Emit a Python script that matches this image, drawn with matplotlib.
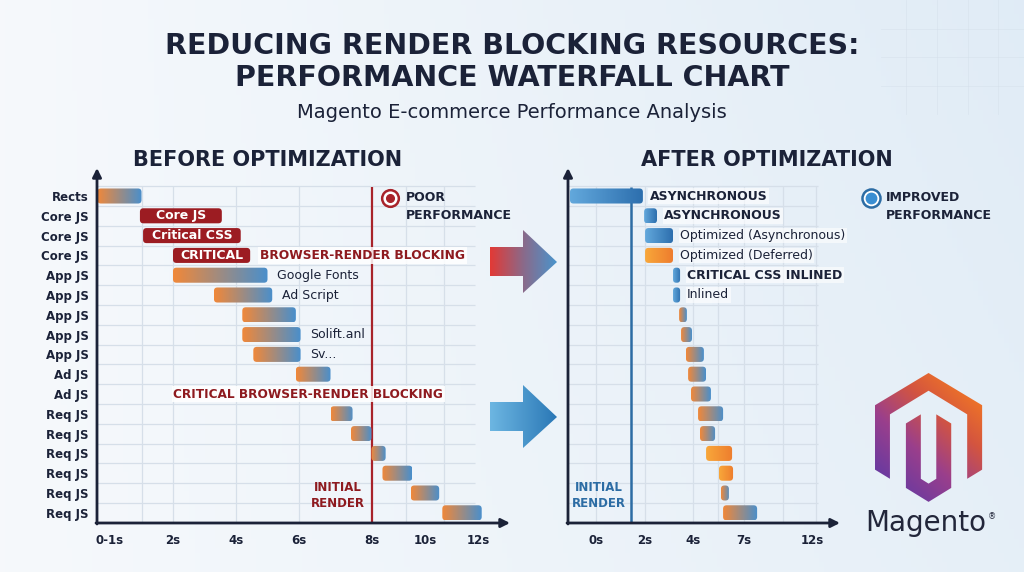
import matplotlib
matplotlib.use("Agg")
import matplotlib.pyplot as plt
import numpy as np
from matplotlib.patches import FancyBboxPatch, PathPatch, Polygon
from matplotlib.path import Path
from matplotlib.colors import LinearSegmentedColormap

# ---------------- data ----------------
before_labels = ["Rects", "Core JS", "Core JS", "Core JS", "App JS", "App JS", "App JS",
                 "App JS", "App JS", "Ad JS", "Ad JS", "Req JS", "Req JS", "Req JS",
                 "Req JS", "Req JS", "Req JS"]
before_start = [-0.4, 0.95, 1.05, 2.0, 2.0, 3.3, 4.2, 4.2, 4.55, 5.9, None,
                7.0, 7.65, 8.3, 8.65, 9.55, 10.55]
before_end = [1.0, 3.55, 4.15, 4.45, 5.0, 5.15, 5.9, 6.05, 6.05, 7.0, None,
              7.7, 8.3, 8.75, 9.6, 10.45, 11.8]
before_block = ["", "Core JS", "Critical CSS", "CRITICAL", "", "", "", "", "", "", "",
                "", "", "", "", "", ""]
before_note = ["", "", "", "BROWSER-RENDER BLOCKING", "Google Fonts", "Ad Script", "",
               "Solift.anl", "Sv...", "", "", "", "", "", "", "", ""]
before_ticks = [0, 2, 4, 6, 8.3, 10, 11.7]
before_tick_labels = ["0-1s", "2s", "4s", "6s", "8s", "10s", "12s"]
before_render = 8.32

after_start = [-1.07, 1.98, 2.02, 2.02, 3.17, 3.17, 3.42, 3.5, 3.7, 3.79, 3.91,
               4.2, 4.28, 4.53, 5.06, 5.14, 5.23]
after_end = [1.93, 2.51, 3.17, 3.17, 3.46, 3.46, 3.74, 3.95, 4.44, 4.53, 4.73,
             5.23, 4.9, 5.6, 5.64, 5.47, 6.63]
after_style = ["blue", "blue", "blue", "orange", "blue", "blue", "mix", "mix", "mix",
               "mix", "mix", "mix", "mix", "orange", "orange", "mix", "mix"]
after_note = ["ASYNCHRONOUS", "ASYNCHRONOUS", "Optimized (Asynchronous)",
              "Optimized (Deferred)", "CRITICAL CSS INLINED", "Inlined"]
after_note_bold = [True, True, False, False, True, False]
after_ticks = [0, 2, 4, 6.1, 8.9]
after_tick_labels = ["0s", "2s", "4s", "7s", "12s"]
after_render = 1.44

NAVY = "#1b2238"
RED = "#a8232a"
DARKRED = "#8e1a1f"
BLUE = "#2c6ca4"
GRAD = {"mix": ("#f0883a", "#4a8fcb"), "blue": ("#62a8dc", "#2d6fae"),
        "orange": ("#f8a73a", "#ee7d2e")}

W, H = 1024, 572
ROW0, STEP = 196, 19.8

fig = plt.figure(figsize=(W / 100, H / 100), dpi=100)

# background
bg = fig.add_axes([0, 0, 1, 1])
bg.set_zorder(0)
gx = np.linspace(0, 1, 200)
gy = np.linspace(0, 1, 120)
X, Y = np.meshgrid(gx, gy)
c1 = np.array([0.965, 0.976, 0.988])
c2 = np.array([0.88, 0.925, 0.965])
t = np.clip(0.75 * X + 0.25 * (1 - Y) * X, 0, 1)[..., None]
bg.imshow(c1 * (1 - t) + c2 * t, extent=[0, 1, 0, 1], aspect="auto")
for xx in [0.885, 0.915, 0.945, 0.975]:
    bg.plot([xx, xx], [0.8, 1.0], color="#d3deea", lw=0.6, alpha=0.5)
for yy in [0.85, 0.9, 0.95]:
    bg.plot([0.86, 1.0], [yy, yy], color="#d3deea", lw=0.6, alpha=0.5)
bg.set_xlim(0, 1)
bg.set_ylim(0, 1)
bg.axis("off")


def make_axes(box, x_origin, x_scale):
    x0, yt, x1, yb = box
    ax = fig.add_axes([x0 / W, 1 - yb / H, (x1 - x0) / W, (yb - yt) / H])
    ax.set_zorder(1)
    ax.patch.set_alpha(0)
    lims = ((x0 - x_origin) / x_scale, (x1 - x_origin) / x_scale,
            (yb - ROW0) / STEP, (yt - ROW0) / STEP)
    for s in ax.spines.values():
        s.set_visible(False)
    ax.tick_params(length=0)
    return ax, lims


def rbar(ax, y, x0, x1, sx, colors=None, fc=None, h=0.76, r_px=3.5):
    w = x1 - x0
    r = min(r_px / sx, w / 2 * 0.9)
    patch = FancyBboxPatch((x0, y - h / 2), w, h,
                           boxstyle="round,pad=0,rounding_size=%f" % r,
                           mutation_aspect=sx / STEP,
                           fc=fc if fc else "none", ec="none", zorder=3)
    ax.add_patch(patch)
    if colors:
        cmap = LinearSegmentedColormap.from_list("g", list(colors))
        im = ax.imshow(np.linspace(0, 1, 64)[None, :], extent=[x0, x1, y + h / 2, y - h / 2],
                       cmap=cmap, aspect="auto", interpolation="bilinear", zorder=3)
        im.set_clip_path(patch)


# ---------------- BEFORE ----------------
LS = 31.5
axL, limL = make_axes((97, 172, 507, 523), 110, LS)
rows = np.arange(len(before_labels))
axL.hlines(np.arange(-0.5, 16.6, 1), limL[0], 11.6, color="#d6dfe9", lw=0.9, zorder=1)
axL.vlines([1.0, 2.0, 4.0, 6.0, 9.4, 10.6], -0.5, limL[2], color="#d6dfe9", lw=0.9, zorder=1)
axL.vlines(before_render, -0.45, limL[2], color=RED, lw=1.6, zorder=2)

for i in rows:
    s, e = before_start[i], before_end[i]
    if s is None:
        continue
    if before_block[i]:
        rbar(axL, i, s, e, LS, fc="#9c1c22")
        axL.text((s + e) / 2, i, before_block[i], ha="center", va="center", color="white",
                 fontsize=9, fontweight="bold", zorder=4)
    else:
        rbar(axL, i, s, e, LS, colors=GRAD["mix"])
    if before_note[i]:
        bold = before_note[i].isupper()
        axL.annotate(before_note[i], (e, i), xytext=(7, 0), textcoords="offset points",
                     ha="left", va="center", fontsize=8.8 if bold else 9,
                     fontweight="bold" if bold else "normal",
                     color=DARKRED if bold else NAVY, zorder=4,
                     bbox=dict(fc="white", ec="none", pad=1.2, alpha=0.85) if bold else None)

axL.text(6.29, 10, "CRITICAL BROWSER-RENDER BLOCKING", ha="center", va="center",
         fontsize=8.7, fontweight="bold", color=DARKRED, zorder=4,
         bbox=dict(fc="white", ec="none", pad=1.2, alpha=0.85))
axL.text(8.1, 15.15, "INITIAL\nRENDER", ha="right", va="center", multialignment="center",
         fontsize=8.5, fontweight="bold", color=DARKRED, linespacing=1.3, zorder=4)

axL.plot(8.9, 0.1, "o", ms=12, mfc="white", mec=RED, mew=1.8, clip_on=False, zorder=5)
axL.plot(8.9, 0.1, "o", ms=5.5, color=RED, clip_on=False, zorder=6)
axL.text(9.38, 0.1, "POOR", ha="left", va="center", fontsize=9, fontweight="bold", color=NAVY)
axL.text(9.38, 0.96, "PERFORMANCE", ha="left", va="center", fontsize=9, fontweight="bold",
         color=NAVY, clip_on=False)

axL.set_yticks(rows)
axL.set_yticklabels(before_labels, fontsize=8.5, fontweight="bold", color=NAVY)
axL.tick_params(axis="y", pad=6)
axL.set_xticks(before_ticks)
axL.set_xticklabels(before_tick_labels, fontsize=8.5, fontweight="bold", color=NAVY)
axL.tick_params(axis="x", pad=8)
axL.set_xlim(limL[0], limL[1])
axL.set_ylim(limL[2], limL[3])

# ---------------- AFTER ----------------
RS = 24.3
axR, limR = make_axes((568, 172, 837, 523), 596, RS)
axR.hlines(np.arange(-0.5, 16.6, 1), limR[0], 9.14, color="#d6dfe9", lw=0.9, zorder=1)
axR.vlines([0, 2.0, 4.0, 5.0, 6.1, 7.7, 9.05], -0.5, limR[2], color="#d6dfe9", lw=0.9, zorder=1)
axR.vlines(after_render, -0.45, limR[2], color=BLUE, lw=1.8, zorder=2)

for i in range(len(after_start)):
    s, e = after_start[i], after_end[i]
    rbar(axR, i, s, e, RS, colors=GRAD[after_style[i]])
    if i < len(after_note):
        b = after_note_bold[i]
        axR.annotate(after_note[i], (e, i), xytext=(5, 0), textcoords="offset points",
                     ha="left", va="center", fontsize=9, fontweight="bold" if b else "normal",
                     color=NAVY, zorder=4, annotation_clip=False,
                     bbox=dict(fc="white", ec="none", pad=1.0, alpha=0.6))

axR.text(1.23, 15.15, "INITIAL\nRENDER", ha="right", va="center", multialignment="center",
         fontsize=8.5, fontweight="bold", color=BLUE, linespacing=1.3, zorder=4)

axR.plot(11.3, 0.1, "o", ms=13, mfc="white", mec=BLUE, mew=1.8, clip_on=False, zorder=5)
axR.plot(11.3, 0.1, "o", ms=7.5, color="#3a8ed2", clip_on=False, zorder=6)
axR.text(11.93, 0.1, "IMPROVED", ha="left", va="center", fontsize=9, fontweight="bold",
         color=NAVY, clip_on=False)
axR.text(11.93, 0.96, "PERFORMANCE", ha="left", va="center", fontsize=9, fontweight="bold",
         color=NAVY, clip_on=False)

axR.set_yticks([])
axR.set_xticks(after_ticks)
axR.set_xticklabels(after_tick_labels, fontsize=8.5, fontweight="bold", color=NAVY)
axR.tick_params(axis="x", pad=8)
axR.set_xlim(limR[0], limR[1])
axR.set_ylim(limR[2], limR[3])

# ---------------- overlay (pixel coordinates) ----------------
ov = fig.add_axes([0, 0, 1, 1])
ov.set_zorder(2)
ov.patch.set_alpha(0)
ov.set_xlim(0, W)
ov.set_ylim(H, 0)
ov.axis("off")

arrow_kw = dict(arrowstyle="-|>", lw=2, color=NAVY, mutation_scale=13, shrinkA=0, shrinkB=0)
for (x0, x1) in [(97, 510), (568, 840)]:
    ov.annotate("", xy=(x1, 523), xytext=(x0 - 1, 523), arrowprops=arrow_kw)
    ov.annotate("", xy=(x0, 168), xytext=(x0, 524), arrowprops=arrow_kw)


def grad_fill(patch, colors, ext, angle=None):
    ov.add_patch(patch)
    n = 100
    if angle is None:
        g = np.linspace(0, 1, n)[None, :]
    else:
        gx_, gy_ = np.meshgrid(np.linspace(0, 1, n), np.linspace(0, 1, n))
        g = np.clip(angle[0] + angle[1] * gx_ + angle[2] * gy_, 0, 1)
    cmap = LinearSegmentedColormap.from_list("a", colors)
    im = ov.imshow(g, extent=ext, cmap=cmap, aspect="auto", interpolation="bilinear",
                   vmin=0, vmax=1, zorder=3)
    im.set_clip_path(patch)


def big_arrow(yc, colors):
    pts = [(490, yc - 15), (523, yc - 15), (523, yc - 32), (557, yc), (523, yc + 31),
           (523, yc + 14), (490, yc + 14)]
    p = Polygon(pts, closed=True, fc="none", ec="none")
    grad_fill(p, colors, [490, 557, yc + 32, yc - 32])


big_arrow(262, ["#e23a36", "#8a6a8a", "#4a94cc"])
big_arrow(417, ["#6db6e2", "#2a78b6"])

# Magento logo
outer = [(12, 0), (1.6, 6), (1.6, 18), (4.5, 19.7), (4.5, 7.7), (12, 3.3), (19.5, 7.7),
         (19.5, 19.7), (22.4, 18), (22.4, 6)]
inner = [(13.5, 19.7), (12, 20.6), (10.5, 19.7), (10.5, 7.7), (7.6, 9.4), (7.6, 21.4),
         (12, 24), (16.4, 21.4), (16.4, 9.4), (13.5, 7.7)]
sxl, syl = 5.15, 5.37


def to_px(pts):
    return [(875 + (x - 1.6) * sxl, 373 + y * syl) for x, y in pts]


verts, codes = [], []
for poly in (outer, inner):
    pp = to_px(poly)
    verts += pp + [pp[0]]
    codes += [Path.MOVETO] + [Path.LINETO] * (len(pp) - 1) + [Path.CLOSEPOLY]
logo = PathPatch(Path(verts, codes), fc="none", ec="none")
grad_fill(logo, ["#f47a22", "#d4553f", "#9a3f8c", "#6a3aa0"], [870, 988, 502, 370],
          angle=(0.45, -0.6, 0.75))
ov.text(926, 523, "Magento", ha="center", va="center", fontsize=20, color="#22263a")
ov.text(992, 517, "\u00ae", ha="center", va="center", fontsize=6, color="#22263a")

# ---------------- titles ----------------
fig.text(0.5, 1 - 46 / H, "REDUCING RENDER BLOCKING RESOURCES:", ha="center", va="center",
         fontsize=20.5, fontweight="bold", color=NAVY)
fig.text(0.5, 1 - 78 / H, "PERFORMANCE WATERFALL CHART", ha="center", va="center",
         fontsize=20.5, fontweight="bold", color=NAVY)
fig.text(0.5, 1 - 112 / H, "Magento E-commerce Performance Analysis", ha="center", va="center",
         fontsize=14, color=NAVY)
fig.text(268 / W, 1 - 160 / H, "BEFORE OPTIMIZATION", ha="center", va="center",
         fontsize=15, fontweight="bold", color=NAVY)
fig.text(767 / W, 1 - 160 / H, "AFTER OPTIMIZATION", ha="center", va="center",
         fontsize=15, fontweight="bold", color=NAVY)

fig.savefig("out.png", dpi=100)
